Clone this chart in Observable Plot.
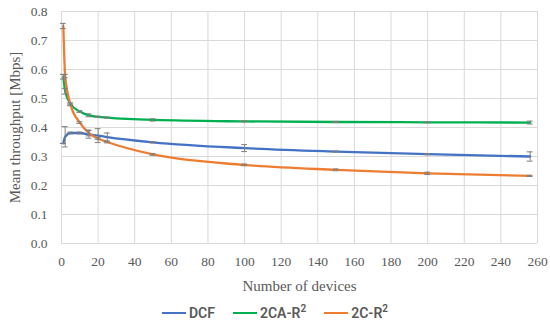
<!DOCTYPE html>
<html>
<head>
<meta charset="utf-8">
<script src="https://cdn.jsdelivr.net/npm/d3@7"></script>
<script src="https://cdn.jsdelivr.net/npm/@observablehq/plot@0.6"></script>
<style>
  body { margin: 0; background: #fff; }
  #wrap { width: 550px; height: 328px; position: relative; }
  #legend { display: flex; justify-content: center; align-items: center; height: 36px; padding-top: 6px; box-sizing: border-box;
    font-family: Roboto, "Liberation Sans", sans-serif; font-weight: 600; font-size: 14px; color: #595959; }
  .item { display: flex; align-items: center; margin: 0 9px; }
  .sw { width: 24px; height: 0; border-top: 2.5px solid; margin-right: 3px; }
  sup { font-size: 10px; vertical-align: 6px; line-height: 0; }
</style>
</head>
<body>
<div id="wrap"></div>
<script>
const devices   = [1, 2, 5, 10, 15, 20, 25, 50, 100, 150, 200, 256];
const dcf       = [0.345, 0.368, 0.381, 0.381, 0.376, 0.372, 0.367, 0.349, 0.329, 0.317, 0.308, 0.300];
const ca2r2     = [0.575, 0.525, 0.481, 0.455, 0.442, 0.437, 0.434, 0.426, 0.421, 0.419, 0.418, 0.417];
const c2r2      = [0.750, 0.577, 0.478, 0.417, 0.381, 0.362, 0.350, 0.307, 0.271, 0.254, 0.242, 0.233];
const dcfErr    = [0.000, 0.035, 0.003, 0.003, 0.013, 0.024, 0.014, 0.002, 0.012, 0.002, 0.002, 0.016];
const ca2r2Err  = [0.008, 0.010, 0.004, 0.003, 0.005, 0.002, 0.002, 0.004, 0.002, 0.002, 0.002, 0.005];
const c2r2Err   = [0.009, 0.006, 0.003, 0.003, 0.010, 0.003, 0.003, 0.003, 0.003, 0.003, 0.004, 0.002];
const seriesNames = ["DCF", "2CA-R²", "2C-R²"];
const seriesColors = ["#4472C4", "#00B050", "#ED7D31"];
const xTicks = d3.range(0, 261, 20);
const yTicks = d3.range(0, 0.81, 0.1);

const values = [dcf, ca2r2, c2r2];
const errs = [dcfErr, ca2r2Err, c2r2Err];
const data = [];
seriesNames.forEach((s, i) => devices.forEach((x, j) => data.push({
  series: s, x, y: values[i][j], lo: values[i][j] - errs[i][j], hi: values[i][j] + errs[i][j]
})));
const capHalf = 1.6;

const chart = Plot.plot({
  width: 550, height: 292,
  marginLeft: 61, marginRight: 13, marginTop: 11, marginBottom: 49,
  style: { fontFamily: "'Liberation Serif', serif", fontSize: "13px", color: "#595959", background: "#fff" },
  x: { domain: [0, 260] },
  y: { domain: [0, 0.8] },
  color: { domain: seriesNames, range: seriesColors },
  marks: [
    Plot.gridX(xTicks, { stroke: "#d9d9d9", strokeOpacity: 1 }),
    Plot.gridY(yTicks, { stroke: "#d9d9d9", strokeOpacity: 1 }),
    Plot.axisX(xTicks, { tickSize: 0, tickPadding: 13, fontSize: 13.5, label: "Number of devices",
      labelAnchor: "center", labelArrow: "none", labelOffset: 47 }),
    Plot.axisY(yTicks, { tickSize: 0, tickPadding: 14, fontSize: 13.5, tickFormat: d3.format(".1f"),
      label: "Mean throughput [Mbps]", labelAnchor: "center", labelArrow: "none", labelOffset: 52 }),
    Plot.line(data, { x: "x", y: "y", z: "series", stroke: "series", strokeWidth: 2.3, curve: "monotone-x" }),
    Plot.ruleX(data, { x: "x", y1: "lo", y2: "hi", stroke: "#7f7f7f", strokeWidth: 1 }),
    Plot.ruleY(data, { y: "lo", x1: d => d.x - capHalf, x2: d => d.x + capHalf, stroke: "#7f7f7f", strokeWidth: 1 }),
    Plot.ruleY(data, { y: "hi", x1: d => d.x - capHalf, x2: d => d.x + capHalf, stroke: "#7f7f7f", strokeWidth: 1 })
  ]
});
chart.querySelectorAll("g[aria-label='x-axis label'] text, g[aria-label='y-axis label'] text").forEach(t => t.setAttribute("font-size", "15"));
const wrap = document.getElementById("wrap");
wrap.appendChild(chart);
const legend = document.createElement("div");
legend.id = "legend";
legend.innerHTML = [
  ["DCF", seriesColors[0]],
  ["2CA-R<sup>2</sup>", seriesColors[1]],
  ["2C-R<sup>2</sup>", seriesColors[2]]
].map(([n, c]) => `<div class="item"><div class="sw" style="border-color:${c}"></div><span>${n}</span></div>`).join("");
wrap.appendChild(legend);
</script>
</body>
</html>
